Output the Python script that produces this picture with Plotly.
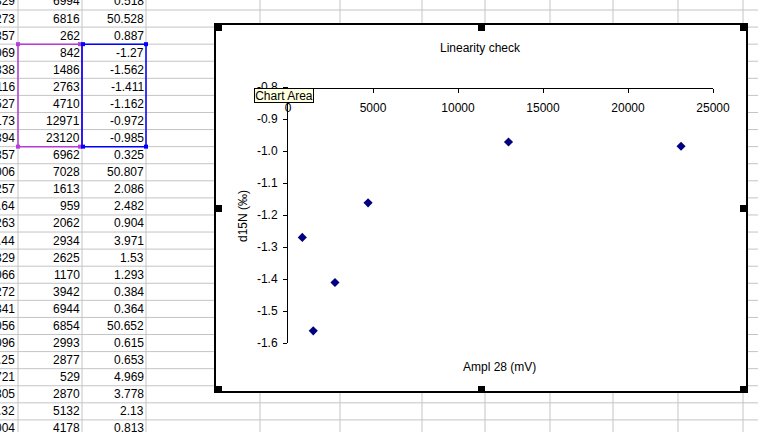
import plotly.graph_objects as go

W, H = 758, 432
FONT = "Liberation Sans, Arial, sans-serif"

# ---- spreadsheet contents (visible part) ----
col_a_tail = ["329", "273", "357", "069", "338", "116", "527", "173", "394", "357", "006", "257", ".64",
              "263", ".44", "329", "066", "272", "341", "056", "096", ".25", "721", "305", ".32", "004"]
ampl_col = ["6994", "6816", "262", "842", "1486", "2763", "4710", "12971", "23120", "6962", "7028", "1613",
            "959", "2062", "2934", "2625", "1170", "3942", "6944", "6854", "2993", "2877", "529", "2870",
            "5132", "4178"]
d15n_col = ["0.518", "50.528", "0.887", "-1.27", "-1.562", "-1.411", "-1.162", "-0.972", "-0.985", "0.325",
            "50.807", "2.086", "2.482", "0.904", "3.971", "1.53", "1.293", "0.384", "0.364", "50.652",
            "0.615", "0.653", "4.969", "3.778", "2.13", "0.813"]

# ---- chart data ----
ampl_28 = [842, 1486, 2763, 4710, 12971, 23120]
d15n = [-1.27, -1.562, -1.411, -1.162, -0.972, -0.985]
x_ticks = [0, 5000, 10000, 15000, 20000, 25000]
x_ticktext = ["0", "5000", "10000", "15000", "20000", "25000"]
y_ticks = [-1.6, -1.5, -1.4, -1.3, -1.2, -1.1, -1.0, -0.9, -0.8]
y_ticktext = ["-1.6", "-1.5", "-1.4", "-1.3", "-1.2", "-1.1", "-1.0", "-0.9", "-0.8"]


def px(x):
    return x / W


def py(y):
    return 1 - y / H


ROW0 = 10.0
ROWH = 17.08
col_edges = [18, 82, 146, 260, 340, 422, 485, 550, 613, 678, 743]

shapes = []
grid = "#c4c4c4"
for k in range(27):
    y = ROW0 + k * ROWH
    shapes.append(dict(type="line", xref="paper", yref="paper", x0=0, x1=1, y0=py(y), y1=py(y),
                       line=dict(color=grid, width=1), layer="below"))
for x in col_edges:
    shapes.append(dict(type="line", xref="paper", yref="paper", x0=px(x), x1=px(x), y0=0, y1=1,
                       line=dict(color=grid, width=1), layer="below"))

# selection rectangles
sel_top = ROW0 + 2 * ROWH
sel_bot = ROW0 + 8 * ROWH
mag = "#b83cd8"
blu = "#0000ff"
shapes.append(dict(type="rect", xref="paper", yref="paper", x0=px(18), x1=px(82), y0=py(sel_bot), y1=py(sel_top),
                   line=dict(color=mag, width=1.5), layer="below"))
shapes.append(dict(type="rect", xref="paper", yref="paper", x0=px(82), x1=px(146), y0=py(sel_bot), y1=py(sel_top),
                   line=dict(color=blu, width=1.5), layer="below"))
for (cx, cy, c) in [(18, sel_top, mag), (18, sel_bot, mag), (80, sel_top, mag), (80, sel_bot, mag),
                    (83, sel_top, blu), (83, sel_bot, blu), (146, sel_top, blu), (146, sel_bot, blu)]:
    shapes.append(dict(type="rect", xref="paper", yref="paper", x0=px(cx - 2), x1=px(cx + 2),
                       y0=py(cy + 2), y1=py(cy - 2), line=dict(width=0), fillcolor=c, layer="below"))

# chart area
CL, CT, CR, CB = 215, 24, 747, 392
shapes.append(dict(type="rect", xref="paper", yref="paper", x0=px(CL), x1=px(CR), y0=py(CB), y1=py(CT),
                   line=dict(color="black", width=2), fillcolor="white", layer="below"))
mx = (CL + CR) / 2
my = 208
for (hx, hy) in [(CL, CT), (mx - 3, CT), (CR - 7, CT), (CL, my - 3), (CR - 7, my - 3),
                 (CL, CB - 6), (mx - 3, CB - 6), (CR - 7, CB - 6)]:
    shapes.append(dict(type="rect", xref="paper", yref="paper", x0=px(hx), x1=px(hx + 7),
                       y0=py(hy + 7), y1=py(hy), line=dict(width=0), fillcolor="black", layer="above"))

annotations = []
for i in range(len(ampl_col)):
    yc = ROW0 + (i - 0.5) * ROWH
    for txt, xr in [(col_a_tail[i], 17), (ampl_col[i], 82), (d15n_col[i], 146)]:
        annotations.append(dict(text=txt, xref="paper", yref="paper", x=px(xr), y=py(yc),
                                xanchor="right", yanchor="middle", showarrow=False,
                                font=dict(family=FONT, size=12, color="black")))

annotations.append(dict(text="Linearity check", xref="paper", yref="paper", x=px(480), y=py(48),
                        xanchor="center", yanchor="middle", showarrow=False,
                        font=dict(family=FONT, size=12, color="black")))
annotations.append(dict(text="Ampl 28 (mV)", xref="paper", yref="paper", x=px(499), y=py(367),
                        xanchor="center", yanchor="middle", showarrow=False,
                        font=dict(family=FONT, size=12, color="black")))
annotations.append(dict(text="d15N (‰)", xref="paper", yref="paper", x=px(243), y=py(216),
                        xanchor="center", yanchor="middle", showarrow=False, textangle=-90,
                        font=dict(family=FONT, size=12, color="black")))
annotations.append(dict(text="Chart Area", xref="paper", yref="paper", x=px(284), y=py(95.5),
                        xanchor="center", yanchor="middle", showarrow=False, width=58, height=13,
                        bgcolor="#ffffe1", bordercolor="black", borderwidth=1, borderpad=0,
                        font=dict(family=FONT, size=12, color="black")))

fig = go.Figure()
fig.add_trace(go.Scatter(x=ampl_28, y=d15n, mode="markers",
                         marker=dict(symbol="diamond", size=7, color="#000080", line=dict(width=0)),
                         showlegend=False, hoverinfo="skip"))

fig.update_layout(
    template="none",
    width=W, height=H, margin=dict(l=0, r=0, t=0, b=0, pad=0, autoexpand=False),
    paper_bgcolor="white", plot_bgcolor="rgba(0,0,0,0)",
    font=dict(family=FONT, size=12, color="black"),
    shapes=shapes, annotations=annotations,
    xaxis=dict(domain=[px(288), px(713)], range=[0, 25000], tickvals=x_ticks, ticktext=x_ticktext,
               anchor="free", position=py(88), side="bottom", automargin=False,
               showline=True, linecolor="black", linewidth=1, ticks="outside", ticklen=4,
               tickcolor="black", showgrid=False, zeroline=False, ticklabelstandoff=5,
               tickfont=dict(family=FONT, size=12, color="black")),
    yaxis=dict(domain=[py(343), py(87)], range=[-1.6, -0.8], tickvals=y_ticks, ticktext=y_ticktext,
               anchor="x", automargin=False, showline=True, linecolor="black", linewidth=1,
               ticks="outside", ticklen=4,
               tickcolor="black", showgrid=False, zeroline=False, ticklabelstandoff=3,
               tickfont=dict(family=FONT, size=12, color="black")),
)

fig.write_html("out.html", config={"displayModeBar": False},
               post_script="document.body.style.margin='0px';")
